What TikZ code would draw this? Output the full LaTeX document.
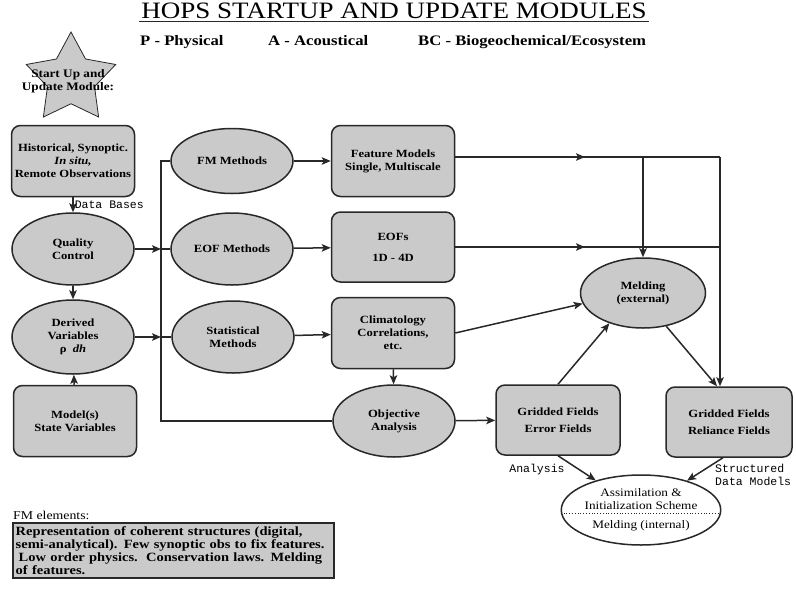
\documentclass[tikz,border=0pt]{standalone}
\usepackage{fontspec}
\setmainfont{Liberation Serif}[FakeStretch=1.15]
\setmonofont{Liberation Mono}
\usepackage{tikz}
\usetikzlibrary{shapes.geometric,arrows.meta,decorations.markings}
\definecolor{hopsgray}{RGB}{202,202,202}
\definecolor{hopsline}{RGB}{40,40,40}

\begin{document}
\begin{tikzpicture}[x=1pt,y=-1pt,
    box/.style={draw=hopsline, line width=1.5pt, rounded corners=9pt, fill=hopsgray, minimum width=123pt, minimum height=71pt, align=center, inner sep=1pt, font=\fontsize{11}{13}\selectfont\bfseries},
    oval/.style={draw=hopsline, line width=1.5pt, ellipse, fill=hopsgray, minimum width=122pt, minimum height=72pt, align=center, inner sep=0pt, font=\fontsize{11}{13}\selectfont\bfseries},
    wire/.style={line width=1.5pt, draw=hopsline},
    conn/.style={wire, -{Stealth[length=9pt,width=7.5pt,inset=2pt]}},
    midarrow/.style={wire, decoration={markings, mark=at position #1 with {\arrow{Stealth[length=9pt,width=7.5pt,inset=2pt]}}}, postaction={decorate}},
    tag/.style={font=\fontsize{11.5}{13}\selectfont\ttfamily, align=left, inner sep=1pt},
    sub/.style={anchor=base west, inner sep=0pt, font=\fontsize{14.5}{16}\selectfont\bfseries}]
    \useasboundingbox (0,0) rectangle (796,592);

    \node[inner sep=2pt, font=\fontsize{23.5}{25}\selectfont] (title) at (394,11) {HOPS STARTUP AND UPDATE MODULES};
    \draw[line width=0.8pt, hopsline] (title.south west) -- (title.south east);
    \node[sub] (phys) at (140,45) {P - Physical};
    \node[sub] (acou) at (268,45) {A - Acoustical};
    \node[sub] (bio) at (418,45) {BC - Biogeochemical/Ecosystem};

    \node[star, star points=5, star point ratio=1.9, draw=hopsline, fill=hopsgray, line width=0.8pt, minimum size=94pt, inner sep=0pt] (star) at (71,79) {};
    \node[align=center, inner sep=0pt, font=\fontsize{11.5}{13}\selectfont\bfseries] (startlbl) at (68,81) {Start Up and\\Update Module:};

    \node[box] (hist) at (73,161) {Historical, Synoptic.\\\textit{In situ,}\\Remote Observations};
    \node[oval] (qc) at (73,249) {Quality\\Control};
    \node[oval, minimum height=74pt] (derv) at (73,337) {Derived\\Variables\\ρ\ \ \textit{dh}};
    \node[box] (model) at (75,421) {Model(s)\\State Variables};

    \node[oval, minimum height=65pt] (fmm) at (232,161) {FM Methods};
    \node[oval] (eofm) at (232,249) {EOF Methods};
    \node[oval] (stat) at (233,337) {Statistical\\Methods};

    \node[box] (feat) at (393,161) {Feature Models\\Single, Multiscale};
    \node[box, minimum height=70pt] (eofs) at (393,247) {EOFs\\[8pt]1D - 4D};
    \node[box] (clim) at (393,333) {Climatology\\Correlations,\\etc.};
    \node[oval] (obj) at (394,421) {Objective\\Analysis};

    \node[box, minimum width=124pt, minimum height=70pt] (grerr) at (558,420) {Gridded Fields\\[4pt]Error Fields};
    \node[oval, minimum width=125pt, minimum height=70pt] (meld) at (643,293) {Melding\\(external)};
    \node[box, minimum width=126pt, minimum height=70pt] (relf) at (729,422) {Gridded Fields\\[4pt]Reliance Fields};
    \node[oval, fill=white, minimum width=123pt, minimum height=70pt, font=\fontsize{11.5}{12.5}\selectfont] (assim) at (641,510) {Assimilation \&\\Initialization Scheme\\[7pt]Melding (internal)};
    \draw[hopsline, line width=0.8pt, dotted] ([xshift=3pt,yshift=-3pt]assim.west) -- ([xshift=-3pt,yshift=-3pt]assim.east);

    \draw[conn] (hist) -- (qc) node[tag, midway, right] {Data Bases};
    \draw[conn] (qc) -- (derv);
    \draw[conn] (model) -- (derv);

    \coordinate (bus) at (161,0);
    \draw[wire] (fmm.west) -- (fmm.west -| bus) -- (obj.west -| bus) -- (obj.west);
    \draw[conn] (qc.east) -- (qc.east -| bus);
    \draw[wire] (qc.east -| bus) -- (eofm.west);
    \draw[conn] (derv.east) -- (derv.east -| bus);
    \draw[wire] (derv.east -| bus) -- (stat.west);

    \draw[conn] (fmm) -- (feat);
    \draw[conn] (eofm) -- (eofs);
    \draw[conn] (stat) -- (clim);
    \draw[conn] (clim) -- (obj);
    \draw[conn] (obj) -- (grerr);

    \coordinate (jf) at (720,157);
    \draw[midarrow=0.49] (feat.east |- jf) -- (jf);
    \draw[conn] (meld.north |- jf) -- (meld.north);
    \draw[conn] (jf) -- (jf |- relf.north);
    \draw[midarrow=0.49] (eofs.east) -- (eofs.east -| jf);

    \draw[conn] (clim.east) -- (meld.190);
    \draw[conn] (grerr.north) -- (meld.222);
    \draw[conn] (meld.305) -- ([xshift=-12pt]relf.north);
    \draw[conn] (grerr.south) -- (assim);
    \draw[conn] ([xshift=-6pt]relf.south) -- (assim);

    \node[tag] (anlbl) at (537,470) {Analysis};
    \node[tag, anchor=north west] (sdmlbl) at (714,463) {Structured\\Data Models};

    \node[anchor=west, inner sep=0pt, font=\fontsize{12}{14}\selectfont] (fmhead) at (13,515) {FM elements:};
    \node[draw=hopsline, line width=1.5pt, fill=hopsgray, anchor=north west, minimum width=321pt, minimum height=55pt, text width=315pt, inner sep=3pt, align=left, font=\fontsize{12.6}{13}\selectfont\bfseries] (fmtext) at (12,522) {Representation of coherent structures (digital,\\semi-analytical). Few synoptic obs to fix features.\\\hspace{3pt}Low order physics.\ \ Conservation laws. Melding\\of features.};
\end{tikzpicture}
\end{document}
